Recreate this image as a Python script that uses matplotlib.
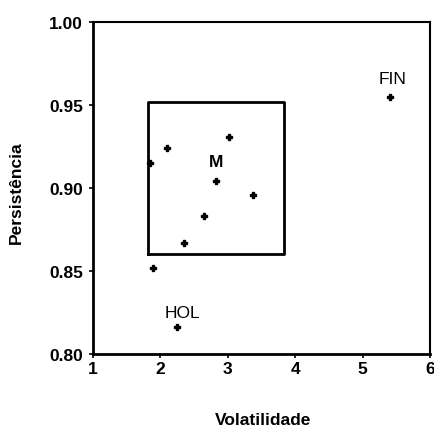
import matplotlib
matplotlib.use("Agg")
import matplotlib.pyplot as plt

# Volatilidade vs persistência
vol = [5.40, 2.25, 1.89, 2.10, 3.02, 2.82, 3.38, 2.65, 2.35, 1.85]
pers = [0.955, 0.816, 0.852, 0.924, 0.931, 0.904, 0.896, 0.883, 0.867, 0.915]

labels = ["FIN", "HOL", "M"]
label_x = [5.45, 2.33, 2.83]
label_y = [0.966, 0.825, 0.916]

box_x = [1.82, 3.83]
box_y = [0.860, 0.952]

plt.rcParams["font.family"] = ["Liberation Sans", "DejaVu Sans"]
plt.rcParams["font.weight"] = "bold"

fig = plt.figure(figsize=(4.34, 4.35), dpi=100)
ax = fig.add_axes([0.214, 0.184, 0.777, 0.763])

ax.plot(vol, pers, linestyle="none", marker="P", markersize=4, color="black")

# caixa em torno do grupo M
ax.plot([box_x[0], box_x[1], box_x[1], box_x[0], box_x[0]],
        [box_y[0], box_y[0], box_y[1], box_y[1], box_y[0]],
        color="black", linewidth=2)

for t, x, y in zip(labels, label_x, label_y):
    ax.text(x, y, t, ha="center", va="center", fontsize=12.5,
            fontweight="bold" if t == "M" else "normal")

ax.set_xlim(1, 6)
ax.set_ylim(0.80, 1.00)
ax.set_xticks([1, 2, 3, 4, 5, 6])
ax.set_yticks([0.80, 0.85, 0.90, 0.95, 1.00])
ax.set_yticklabels(["0.80", "0.85", "0.90", "0.95", "1.00"])
ax.tick_params(direction="out", length=3, width=1.2, labelsize=12.5, pad=4)
ax.tick_params(axis="x", pad=2)
for s in ax.spines.values():
    s.set_linewidth(1.5)
ax.spines["left"].set_linewidth(2)
ax.spines["bottom"].set_linewidth(2)

ax.set_xlabel("Volatilidade", fontsize=12.5, fontweight="bold")
ax.set_ylabel("Persistência", fontsize=12.5, fontweight="bold")
ax.xaxis.label.set_va("center")
ax.yaxis.label.set_va("center")
ax.xaxis.set_label_coords(0.505, -0.196)
ax.yaxis.set_label_coords(-0.228, 0.49)

fig.savefig("out.png", dpi=100)
